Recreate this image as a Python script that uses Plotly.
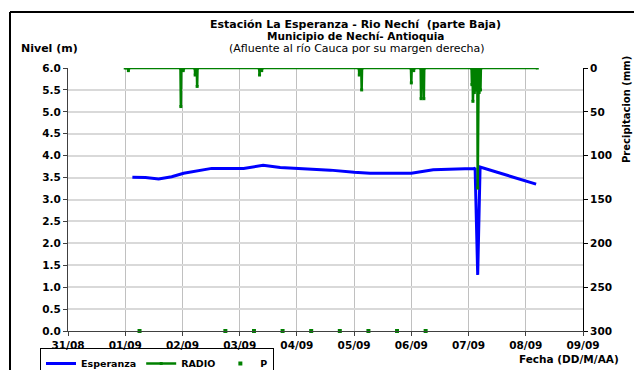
import plotly.graph_objects as go

# ---- Data ----
esperanza_time = [
    "2011-09-01 03:00", "2011-09-01 08:30", "2011-09-01 14:00", "2011-09-01 19:30",
    "2011-09-02 00:30", "2011-09-02 07:30", "2011-09-02 12:15", "2011-09-03 01:40",
    "2011-09-03 09:50", "2011-09-03 17:00", "2011-09-04 01:30", "2011-09-04 14:00",
    "2011-09-05 00:00", "2011-09-05 06:40", "2011-09-06 00:00", "2011-09-06 09:10",
    "2011-09-06 22:30", "2011-09-07 02:10", "2011-09-07 02:45", "2011-09-07 03:50",
    "2011-09-07 04:50", "2011-09-07 09:10", "2011-09-07 16:05", "2011-09-07 23:00",
    "2011-09-08 04:20",
]
esperanza_nivel = [
    3.51, 3.50, 3.47, 3.52,
    3.60, 3.67, 3.71, 3.71,
    3.78, 3.73, 3.71, 3.67,
    3.62, 3.60, 3.60, 3.68,
    3.70, 3.70, 3.72, 1.28,
    3.74, 3.67, 3.56, 3.44,
    3.35,
]

radio_time = [
    "2011-09-01 00:00",
    "2011-09-01 01:10", "2011-09-01 01:20", "2011-09-01 01:30",
    "2011-09-01 23:10", "2011-09-01 23:20", "2011-09-01 23:30",
    "2011-09-02 00:10", "2011-09-02 00:20", "2011-09-02 00:30",
    "2011-09-02 05:10", "2011-09-02 05:20", "2011-09-02 05:30",
    "2011-09-02 06:00", "2011-09-02 06:10", "2011-09-02 06:20",
    "2011-09-03 08:10", "2011-09-03 08:20", "2011-09-03 08:30",
    "2011-09-03 09:05", "2011-09-03 09:15", "2011-09-03 09:25",
    "2011-09-05 02:00", "2011-09-05 02:10", "2011-09-05 02:20",
    "2011-09-05 03:00", "2011-09-05 03:10", "2011-09-05 03:20",
    "2011-09-05 23:50", "2011-09-06 00:00", "2011-09-06 00:10",
    "2011-09-06 00:50", "2011-09-06 01:00", "2011-09-06 01:10",
    "2011-09-06 03:55", "2011-09-06 04:05", "2011-09-06 04:15",
    "2011-09-06 05:05", "2011-09-06 05:15", "2011-09-06 05:25",
    "2011-09-07 01:15", "2011-09-07 01:25", "2011-09-07 01:35",
    "2011-09-07 01:40", "2011-09-07 01:50", "2011-09-07 02:00",
    "2011-09-07 02:15", "2011-09-07 02:25", "2011-09-07 02:35",
    "2011-09-07 03:00", "2011-09-07 03:10", "2011-09-07 03:20",
    "2011-09-07 03:40", "2011-09-07 03:50", "2011-09-07 04:00",
    "2011-09-07 04:15", "2011-09-07 04:25", "2011-09-07 04:35",
    "2011-09-07 04:50", "2011-09-07 05:00", "2011-09-07 05:10",
    "2011-09-08 04:50",
]
radio_mm = [
    0,
    0, 3, 0,
    0, 44, 0,
    0, 3, 0,
    0, 8, 0,
    0, 21, 0,
    0, 8, 0,
    0, 3, 0,
    0, 8, 0,
    0, 25, 0,
    0, 17, 0,
    0, 3, 0,
    0, 35, 0,
    0, 35, 0,
    0, 19, 0,
    0, 38, 0,
    0, 28, 0,
    0, 25, 0,
    0, 137, 0,
    0, 28, 0,
    0, 25, 0,
    0,
]

p_time = [
    "2011-09-01 06:00", "2011-09-02 18:00", "2011-09-03 06:00", "2011-09-03 18:00",
    "2011-09-04 06:00", "2011-09-04 18:00", "2011-09-05 06:00", "2011-09-05 18:00",
    "2011-09-06 06:00",
]
p_nivel = [0, 0, 0, 0, 0, 0, 0, 0, 0]

x_range = ["2011-08-31 00:00", "2011-09-09 00:00"]

FONT = "DejaVu Sans, Liberation Sans, Arial, sans-serif"

fig = go.Figure()
fig.add_trace(go.Scatter(
    x=esperanza_time, y=esperanza_nivel, name="Esperanza", mode="lines",
    line=dict(color="#0000ff", width=3), yaxis="y",
))
fig.add_trace(go.Scatter(
    x=radio_time, y=radio_mm, name="RADIO", mode="lines+markers",
    line=dict(color="#008000", width=2.5), marker=dict(color="#008000", size=3, symbol="square"),
    yaxis="y2",
))
fig.add_trace(go.Scatter(
    x=p_time, y=p_nivel, name="P", mode="markers",
    marker=dict(color="#008000", size=4, symbol="square"), yaxis="y", cliponaxis=False,
))

W, H = 634, 370
L, R, T, B = 68, 583, 68, 331


def px(xp):
    return (xp - L) / (R - L)


def py(yp):
    return (B - yp) / (B - T)


TICKFONT = dict(family=FONT, size=10.5, color="black", weight="bold")

fig.update_layout(
    width=W, height=H,
    margin=dict(l=L, r=W - R, t=T, b=H - B, autoexpand=False),
    paper_bgcolor="white", plot_bgcolor="white",
    font=dict(family=FONT, size=11, color="black"),
    showlegend=True,
    legend=dict(
        orientation="h", x=px(40), y=py(348), xanchor="left", yanchor="top",
        bordercolor="black", borderwidth=1, bgcolor="rgba(255,255,255,0)",
        font=dict(family=FONT, size=9.5, color="black", weight="bold"),
        itemwidth=30, tracegroupgap=0,
    ),
    xaxis=dict(
        type="date", range=x_range, dtick=86400000, tickformat="%d/%m",
        showgrid=True, gridcolor="#c0c0c0", gridwidth=1,
        showline=True, linecolor="#404040", linewidth=1,
        ticks="outside", ticklen=4, tickcolor="#404040",
        tickfont=TICKFONT, zeroline=False,
    ),
    yaxis=dict(
        range=[0, 6], dtick=0.5, tickformat=".1f",
        showgrid=True, gridcolor="#d9d9d9", gridwidth=1.5,
        showline=True, linecolor="#404040", linewidth=1,
        ticks="outside", ticklen=4, tickcolor="#404040",
        tickfont=TICKFONT, zeroline=False,
    ),
    yaxis2=dict(
        range=[300, 0], dtick=50, overlaying="y", side="right",
        showgrid=False, showline=True, linecolor="black", linewidth=1,
        ticks="outside", ticklen=4, tickcolor="black",
        tickfont=TICKFONT, zeroline=False,
    ),
)

annos = [
    dict(text="<b>Estación La Esperanza - Rio Nechí  (parte Baja)</b>", x=px(355), y=py(24.5), size=11),
    dict(text="<b>Municipio de Nechí- Antioquia</b>", x=px(355), y=py(36.5), size=10.5),
    dict(text="(Afluente al río Cauca por su margen derecha)", x=px(357), y=py(49), size=11),
]
for a in annos:
    fig.add_annotation(xref="paper", yref="paper", showarrow=False,
                       xanchor="center", yanchor="middle", text=a["text"], x=a["x"], y=a["y"],
                       font=dict(family=FONT, size=a["size"], color="black"))

fig.add_annotation(xref="paper", yref="paper", showarrow=False, text="<b>Nivel (m)</b>",
                   x=px(19), y=py(48), xanchor="left", yanchor="middle",
                   font=dict(family=FONT, size=11, color="black"))
fig.add_annotation(xref="paper", yref="paper", showarrow=False, text="<b>Precipitacion (mm)</b>",
                   x=px(626), y=py(110), xanchor="center", yanchor="middle", textangle=-90,
                   font=dict(family=FONT, size=10, color="black"))
fig.add_annotation(xref="paper", yref="paper", showarrow=False, text="<b>Fecha (DD/M/AA)</b>",
                   x=px(517), y=py(359), xanchor="left", yanchor="middle",
                   font=dict(family=FONT, size=10.5, color="black"))

# outer chart frame (top and left edges visible)
fig.add_shape(type="line", xref="paper", yref="paper", x0=px(10), x1=px(640), y0=py(12), y1=py(12),
              line=dict(color="black", width=2))
fig.add_shape(type="line", xref="paper", yref="paper", x0=px(10), x1=px(10), y0=py(12), y1=py(375),
              line=dict(color="black", width=2))

fig.write_html(
    "out.html",
    config={"displayModeBar": False},
    post_script="document.body.style.margin='0';document.body.style.overflow='hidden';",
)
